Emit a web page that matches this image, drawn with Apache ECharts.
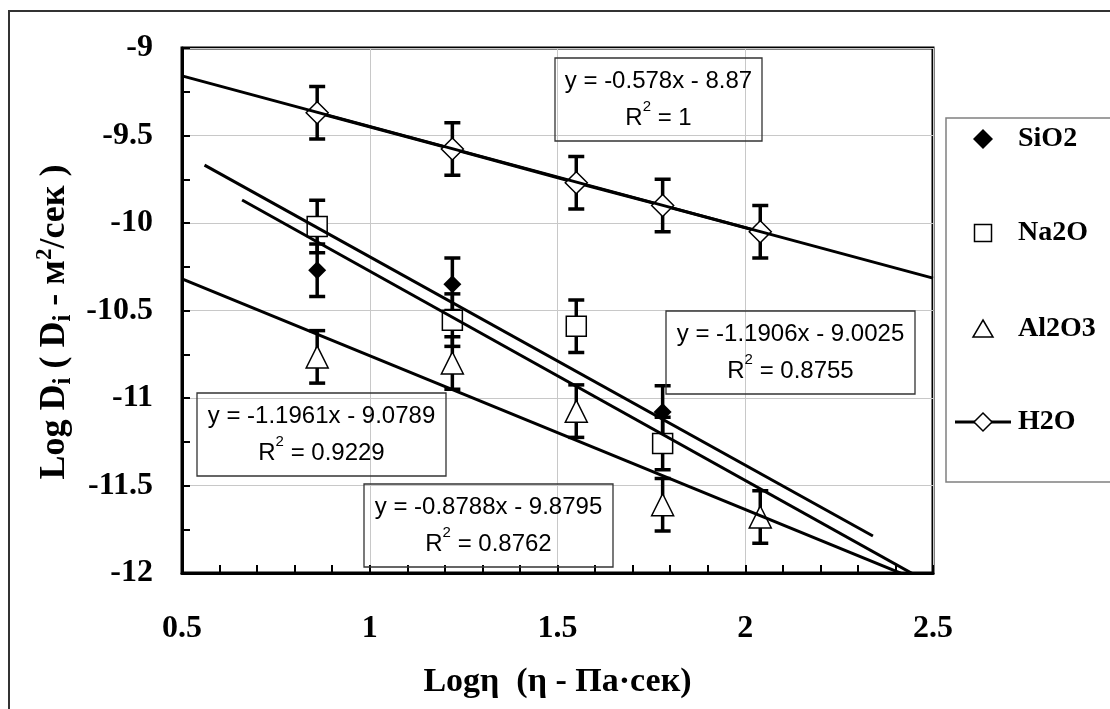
<!DOCTYPE html>
<html>
<head>
<meta charset="utf-8">
<title>Log D vs Log eta</title>
<script src="https://cdn.jsdelivr.net/npm/echarts@6/dist/echarts.min.js"></script>
<style>
  html, body { margin: 0; padding: 0; background: #fff; }
  #main { width: 1110px; height: 709px; }
</style>
</head>
<body>
<div id="main"></div>
<script>
// points
var xSiO2 = [0.86, 1.22, 1.78];
var ySiO2 = [-10.27, -10.35, -11.08];
var xNa2O = [0.86, 1.22, 1.55, 1.78];
var yNa2O = [-10.02, -10.555, -10.59, -11.26];
var xAl2O3 = [0.86, 1.22, 1.55, 1.78, 2.04];
var yAl2O3 = [-10.765, -10.80, -11.075, -11.61, -11.68];
var xH2O = [0.86, 1.22, 1.55, 1.78, 2.04];
var yH2O = [-9.37, -9.577, -9.77, -9.90, -10.05];
var errHalf = 0.15;

// trendlines as printed in the boxes
var trendSlope = [-1.1906, -1.1961, -0.8788, -0.578];
var trendIntercept = [-9.0025, -9.0789, -9.8795, -8.87];
var trendR2 = ['0.8755', '0.9229', '0.8762', '1'];
var trendFrom = [0.56, 0.66, 0.5, 0.5];
var trendTo = [2.34, 2.5, 2.5, 2.5];

var legendNames = ['SiO2', 'Na2O', 'Al2O3', 'H2O'];

var SERIF = 'Liberation Serif';
var SANS = 'Liberation Sans';

function pairs(xs, ys) {
    var out = [];
    for (var i = 0; i < xs.length; i++) out.push([xs[i], ys[i]]);
    return out;
}

var errData = [];
[[xSiO2, ySiO2], [xNa2O, yNa2O], [xAl2O3, yAl2O3], [xH2O, yH2O]].forEach(function (s) {
    for (var i = 0; i < s[0].length; i++) {
        errData.push([s[0][i], s[1][i] - errHalf, s[1][i] + errHalf]);
    }
});

function renderErr(params, api) {
    var x = api.value(0);
    var lo = api.coord([x, api.value(1)]);
    var hi = api.coord([x, api.value(2)]);
    var w = 8;
    var st = { stroke: '#000', lineWidth: 3.5 };
    return {
        type: 'group',
        children: [
            { type: 'line', shape: { x1: lo[0], y1: lo[1], x2: hi[0], y2: hi[1] }, style: st },
            { type: 'line', shape: { x1: lo[0] - w, y1: lo[1], x2: lo[0] + w, y2: lo[1] }, style: st },
            { type: 'line', shape: { x1: hi[0] - w, y1: hi[1], x2: hi[0] + w, y2: hi[1] }, style: st }
        ]
    };
}

var trendSeries = [];
for (var k = 0; k < trendSlope.length; k++) {
    var a = trendFrom[k], b = trendTo[k];
    trendSeries.push({
        name: 'trend ' + legendNames[k],
        type: 'line',
        data: [[a, trendSlope[k] * a + trendIntercept[k]], [b, trendSlope[k] * b + trendIntercept[k]]],
        symbol: 'none',
        silent: true,
        clip: true,
        z: 5,
        lineStyle: { color: '#000', width: 3 }
    });
}

// equation boxes (position in pixels)
var eqBox = [[666, 311, 249, 83], [197, 393, 249, 83], [364, 484, 249, 83], [555, 58, 207, 83]];
var eqRich = {
    t: { fontFamily: SANS, fontSize: 24, lineHeight: 37, fill: '#000' },
    s: { fontFamily: SANS, fontSize: 15, lineHeight: 25, verticalAlign: 'top', fill: '#000' }
};
var graphics = [{
    type: 'rect', silent: true, z: 0,
    shape: { x: 9, y: 11, width: 1200, height: 800 },
    style: { fill: 'none', stroke: '#333', lineWidth: 2 }
}];
for (var j = 0; j < eqBox.length; j++) {
    var bx = eqBox[j];
    var line1 = 'y = ' + trendSlope[j] + 'x - ' + Math.abs(trendIntercept[j]);
    graphics.push({
        type: 'rect', silent: true, z: 10,
        shape: { x: bx[0], y: bx[1], width: bx[2], height: bx[3] },
        style: { fill: 'none', stroke: '#333', lineWidth: 1.3 }
    });
    graphics.push({
        type: 'text', silent: true, z: 10,
        x: bx[0] + bx[2] / 2, y: bx[1] + bx[3] / 2,
        style: {
            text: '{t|' + line1 + '}\n{t|R}{s|2}{t| = ' + trendR2[j] + '}',
            rich: eqRich,
            align: 'center', verticalAlign: 'middle'
        }
    });
}
// y axis title with sub / superscripts
graphics.push({
    type: 'text', silent: true, z: 10,
    x: 55, y: 322, rotation: Math.PI / 2,
    style: {
        text: '{m|Log D}{b|i}{m| ( D}{b|i}{m| - м}{p|2}{m|/сек )}',
        align: 'center', verticalAlign: 'middle',
        rich: {
            m: { fontFamily: SERIF, fontWeight: 'bold', fontSize: 36, lineHeight: 42, fill: '#000' },
            b: { fontFamily: SERIF, fontWeight: 'bold', fontSize: 25, lineHeight: 31, verticalAlign: 'bottom', fill: '#000' },
            p: { fontFamily: SERIF, fontWeight: 'bold', fontSize: 23, lineHeight: 25, verticalAlign: 'top', fill: '#000' }
        }
    }
});

// legend, drawn by hand so the marker shapes keep their proportions
var legX = 983, legTextX = 1018, legY = [139, 233, 329, 422];
var mk = { stroke: '#000', lineWidth: 1.5, fill: '#fff' };
graphics.push(
    { type: 'rect', silent: true, z: 10, shape: { x: 946, y: 118, width: 300, height: 364 },
      style: { fill: '#fff', stroke: '#808080', lineWidth: 1.5 } },
    { type: 'polygon', silent: true, z: 11,
      shape: { points: [[legX, legY[0] - 10], [legX + 10, legY[0]], [legX, legY[0] + 10], [legX - 10, legY[0]]] },
      style: { fill: '#000' } },
    { type: 'rect', silent: true, z: 11, shape: { x: legX - 8.5, y: legY[1] - 8.5, width: 17, height: 17 }, style: mk },
    { type: 'polygon', silent: true, z: 11,
      shape: { points: [[legX, legY[2] - 9], [legX + 10, legY[2] + 8], [legX - 10, legY[2] + 8]] }, style: mk },
    { type: 'line', silent: true, z: 11, shape: { x1: 955, y1: legY[3], x2: 1011, y2: legY[3] },
      style: { stroke: '#000', lineWidth: 3 } },
    { type: 'polygon', silent: true, z: 12,
      shape: { points: [[legX, legY[3] - 9], [legX + 9, legY[3]], [legX, legY[3] + 9], [legX - 9, legY[3]]] }, style: mk }
);
for (var q = 0; q < legendNames.length; q++) {
    graphics.push({
        type: 'text', silent: true, z: 11, x: legTextX, y: legY[q],
        style: { text: legendNames[q], fill: '#000', font: 'bold 28px "Liberation Serif"',
                 align: 'left', verticalAlign: 'middle' }
    });
}

var myChart = echarts.init(document.getElementById('main'));
var option = {
    animation: false,
    backgroundColor: '#fff',
    grid: { left: 182, right: 177, top: 48, bottom: 136, show: true, borderColor: '#000', borderWidth: 3 },
    xAxis: {
        type: 'value', min: 0.5, max: 2.5, interval: 0.5,
        name: 'Logη  (η - Па·сек)', nameLocation: 'middle', nameGap: 92,
        nameTextStyle: { fontFamily: SERIF, fontWeight: 'bold', fontSize: 34, color: '#000' },
        axisLine: { lineStyle: { color: '#000', width: 3 } },
        axisTick: { inside: true, length: 8, lineStyle: { color: '#000', width: 2 } },
        minorTick: { show: true, splitNumber: 5, length: 8, lineStyle: { color: '#000', width: 2 } },
        splitLine: { show: true, lineStyle: { color: '#c8c8c8', width: 1 } },
        axisLabel: { margin: 40, fontFamily: SERIF, fontWeight: 'bold', fontSize: 32, color: '#000' }
    },
    yAxis: {
        type: 'value', min: -12, max: -9, interval: 0.5,
        axisLine: { lineStyle: { color: '#000', width: 3 } },
        axisTick: { inside: true, length: 8, lineStyle: { color: '#000', width: 2 } },
        minorTick: { show: true, splitNumber: 2, length: 8, lineStyle: { color: '#000', width: 2 } },
        splitLine: { show: true, lineStyle: { color: '#c8c8c8', width: 1 } },
        axisLabel: { margin: 29, fontFamily: SERIF, fontWeight: 'bold', fontSize: 32, color: '#000' }
    },
    series: [{
        name: 'err',
        type: 'custom',
        renderItem: renderErr,
        data: errData,
        encode: { x: 0, y: [1, 2] },
        silent: true,
        z: 2
    }, {
        name: 'SiO2', type: 'scatter', data: pairs(xSiO2, ySiO2),
        symbol: 'diamond', symbolSize: 18, z: 3,
        itemStyle: { color: '#000', opacity: 1 }
    }, {
        name: 'Na2O', type: 'scatter', data: pairs(xNa2O, yNa2O),
        symbol: 'rect', symbolSize: 20, z: 3,
        itemStyle: { color: '#fff', borderColor: '#000', borderWidth: 1.5, opacity: 1 }
    }, {
        name: 'Al2O3', type: 'scatter', data: pairs(xAl2O3, yAl2O3),
        symbol: 'triangle', symbolSize: 22, z: 3,
        itemStyle: { color: '#fff', borderColor: '#000', borderWidth: 1.5, opacity: 1 }
    }, {
        name: 'H2O', type: 'line', data: pairs(xH2O, yH2O),
        symbol: 'diamond', symbolSize: 22, showSymbol: true, z: 3,
        itemStyle: { color: '#fff', borderColor: '#000', borderWidth: 1.5 },
        lineStyle: { color: '#000', width: 3 }
    }].concat(trendSeries),
    graphic: graphics
};
myChart.setOption(option);
</script>
</body>
</html>
